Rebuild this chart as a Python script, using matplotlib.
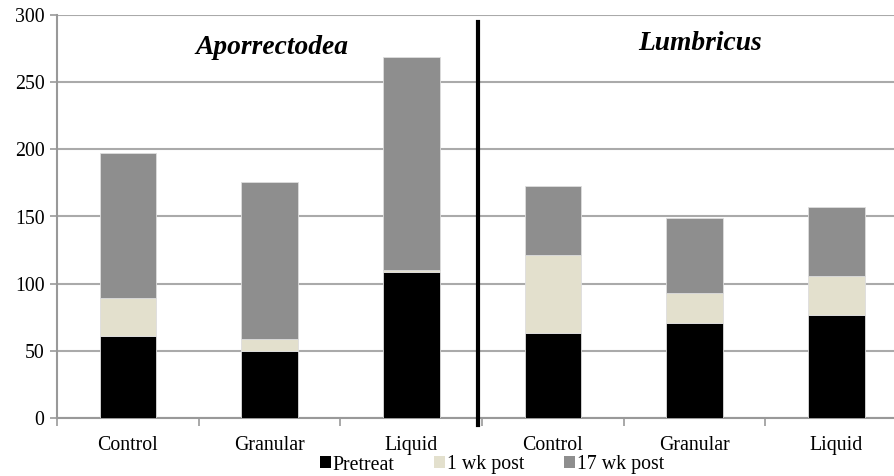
import numpy as np
import matplotlib
matplotlib.use('Agg')
import matplotlib.pyplot as plt
from matplotlib.patches import Patch

categories = ['Control', 'Granular', 'Liquid', 'Control', 'Granular', 'Liquid']
pretreat = [61, 50, 109, 63, 71, 77]
wk1_post = [28, 9, 1, 58, 22, 29]
wk17_post = [108, 117, 159, 52, 56, 51]
group_labels = ['Aporrectodea', 'Lumbricus']

plt.rcParams['font.family'] = ['Liberation Serif', 'DejaVu Serif']

colors = ['#000000', '#E3E0CD', '#8E8E8E']

fig = plt.figure(figsize=(8.94, 4.76), dpi=100)
ax = fig.add_axes([57 / 894, 58 / 476, 850 / 894, 403 / 476])

x = np.arange(len(categories))
w = 0.40
bottom = np.zeros(len(categories))
for vals, c in zip([pretreat, wk1_post, wk17_post], colors):
    ax.bar(x, vals, w, bottom=bottom, color=c, edgecolor='#DDDDDD', linewidth=0.6, zorder=3)
    bottom += np.array(vals)

ax.set_xlim(-0.5, len(categories) - 0.5)
ax.set_ylim(0, 300)
ax.set_yticks(range(0, 301, 50))
ax.yaxis.grid(True, color='#AAAAAA', linewidth=1.5, zorder=0)
ax.set_axisbelow(True)

ax.set_xticks(x)
ax.set_xticklabels(categories)
ax.set_xticks(np.arange(-0.5, len(categories), 1), minor=True)
ax.tick_params(axis='x', which='major', length=0, labelsize=14.3, pad=13)
ax.tick_params(axis='x', which='minor', length=6, color='#999999', width=1.2)
ax.tick_params(axis='y', length=5, color='#999999', width=1.2, labelsize=14.3, pad=4)

for s in ['top', 'right']:
    ax.spines[s].set_visible(False)
for s in ['left', 'bottom']:
    ax.spines[s].set_color('#999999')
    ax.spines[s].set_linewidth(1.5)

# divider between genera
ax.plot([2.47, 2.47], [295, -5], color='black', linewidth=3, clip_on=False, zorder=5)

ax.text(1.02, 276, group_labels[0], ha='center', va='center', fontsize=19.8,
        fontweight='bold', fontstyle='italic')
ax.text(4.04, 279, group_labels[1], ha='center', va='center', fontsize=19.8,
        fontweight='bold', fontstyle='italic')

handles = [Patch(facecolor=c, edgecolor='none') for c in colors]
fig.legend(handles, ['Pretreat', '1 wk post', '17 wk post'], loc='center',
           bbox_to_anchor=(492 / 894, 1 - 465 / 476), ncol=3, frameon=False,
           fontsize=14.3, handlelength=0.55, handleheight=0.55, handletextpad=0.1,
           columnspacing=2.0, borderpad=0)

fig.savefig('out.png', dpi=100)
